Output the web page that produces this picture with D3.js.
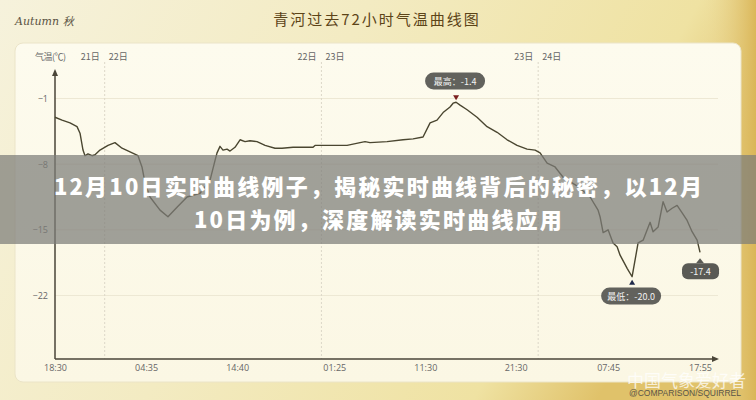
<!DOCTYPE html>
<html><head><meta charset="utf-8">
<script src="https://cdn.jsdelivr.net/npm/d3@7"></script>
<style>
html,body{margin:0;padding:0;background:#f4efd2;}
svg{display:block;}
</style></head>
<body>
<svg id="c" width="756" height="400"></svg>
<script>
// ---------- data ----------
const title = "青河过去72小时气温曲线图";
const brand = "Autumn 秋";
const yLabel = "气温(℃)";
// hours since 21日 18:30
const times = [0,0.78,1.66,2.44,2.77,3.1,3.32,3.65,4.1,4.43,4.98,5.87,6.64,7.42,8.31,9.19,9.63,9.97,10.52,11.63,12.51,13.51,14.62,16.06,17.17,17.72,17.94,18.27,18.6,19.05,19.38,19.93,20.49,21.04,21.59,22.37,23.26,24.36,25.14,26.36,28.57,28.79,32.34,33.78,34.33,34.88,36.77,38.54,39.65,40.75,41.53,42.3,42.97,43.74,44.08,44.41,44.85,45.63,46.73,47.84,48.95,50.06,51.16,52.27,53.16,53.71,54.49,55.37,56.26,57.92,59.25,60.13,60.35,60.69,61.24,61.79,62.24,62.57,63.35,63.9,64.56,65.12,65.89,66.22,66.78,67.33,67.77,68.33,68.88,69.44,69.99,70.54,71.1,71.42];
const temps = [-3.0,-3.3,-3.6,-4.0,-4.7,-6.5,-7.1,-6.9,-7.1,-7.0,-6.5,-6.0,-5.7,-6.3,-6.7,-7.1,-8.3,-10.0,-11.5,-12.9,-13.6,-12.6,-11.5,-11.1,-9.7,-7.6,-6.8,-6.1,-6.5,-6.4,-6.6,-6.2,-5.4,-5.6,-5.5,-5.6,-6.0,-6.3,-6.3,-6.2,-6.2,-6.0,-6.0,-5.7,-5.6,-5.7,-5.6,-5.4,-5.3,-5.1,-3.6,-3.3,-2.5,-1.9,-1.5,-1.4,-1.7,-2.2,-3.0,-4.0,-4.6,-5.4,-6.0,-6.4,-6.5,-6.8,-7.9,-8.3,-9.4,-10.4,-11.5,-12.9,-13.6,-15.3,-15.0,-16.4,-16.8,-17.7,-19.1,-20.0,-16.4,-16.1,-14.2,-15.2,-14.7,-12.0,-13.1,-12.7,-12.4,-13.2,-14.0,-15.2,-16.1,-17.4];
const xTickLabels = ["18:30","04:35","14:40","01:25","11:30","21:30","07:45","17:55"];
const xTickDays   = [21,22,22,23,23,23,24,24];
const yTicks = [-1,-8,-15,-22];
const dayBoundaryDays = [22,23,24];
const maxLabel = "最高：-1.4";
const minLabel = "最低：-20.0";
const lastLabel = "-17.4";
const bannerLines = ["12月10日实时曲线例子，揭秘实时曲线背后的秘密，以12月","10日为例，深度解读实时曲线应用"];
const watermark = "中国气象爱好者";
const credit = "@COMPARISON/SQUIRREL";

// ---------- helpers ----------
const toHours = (day, hm) => { const [h,m] = hm.split(":").map(Number); return (day-21)*24 + h + m/60 - 18.5; };
const data = times.map((t,i)=>({t, v: temps[i]}));

const svg = d3.select("#c");
const defs = svg.append("defs");
const bg = defs.append("linearGradient").attr("id","bg").attr("x1","0").attr("y1","0").attr("x2","1").attr("y2","0.3");
bg.append("stop").attr("offset","0").attr("stop-color","#f6f2dc");
bg.append("stop").attr("offset","0.45").attr("stop-color","#f3ebc2");
bg.append("stop").attr("offset","0.85").attr("stop-color","#efe2a2");
bg.append("stop").attr("offset","1").attr("stop-color","#e0c26a");
svg.append("rect").attr("width",756).attr("height",400).attr("fill","url(#bg)");

const wheat = defs.append("linearGradient").attr("id","wh").attr("x1","0").attr("y1","0").attr("x2","1").attr("y2","0");
wheat.append("stop").attr("offset","0").attr("stop-color","#f0e2a8").attr("stop-opacity",0);
wheat.append("stop").attr("offset","1").attr("stop-color","#d9b455").attr("stop-opacity",0.9);
svg.append("rect").attr("x",700).attr("y",0).attr("width",56).attr("height",400).attr("fill","url(#wh)");

// panel
const pg = defs.append("linearGradient").attr("id","pg").attr("x1","0").attr("y1","0").attr("x2","0").attr("y2","1");
pg.append("stop").attr("offset","0").attr("stop-color","#fdfbee");
pg.append("stop").attr("offset","1").attr("stop-color","#fbf7e4");
svg.append("rect").attr("x",15).attr("y",43).attr("width",726).attr("height",339).attr("rx",8)
  .attr("fill","url(#pg)").attr("stroke","#ebe4c8").attr("stroke-width",1);

// header
svg.append("text").attr("x",15).attr("y",25).text(brand)
  .attr("font-family","'DejaVu Serif', serif").attr("font-style","italic").attr("font-size",11).attr("fill","#5b5444");
svg.append("text").attr("x",377).attr("y",25).attr("text-anchor","middle").text(title)
  .attr("font-family","'Noto Sans CJK SC'").attr("font-size",15).attr("letter-spacing",2).attr("fill","#5c4418");

// scales
const x = d3.scaleLinear().domain([0, toHours(24,"17:55")]).range([55,700]);
const y = d3.scaleLinear().domain([-22,-1]).range([295.5,98.5]);
const x0 = 55, xEnd = 718, yTop = 70, yBot = 359;

// horizontal grid
svg.append("g").selectAll("line").data(yTicks).join("line")
  .attr("x1",x0).attr("x2",xEnd).attr("y1",d=>y(d)).attr("y2",d=>y(d))
  .attr("stroke","#ede8d4").attr("stroke-width",1);

// day boundaries
const bounds = dayBoundaryDays.map(d=>toHours(d,"00:00"));
svg.append("g").selectAll("line").data(bounds).join("line")
  .attr("x1",d=>x(d)).attr("x2",d=>x(d)).attr("y1",62).attr("y2",yBot)
  .attr("stroke","#dcd8c8").attr("stroke-dasharray","2,2").attr("stroke-width",1);
const dayLbl = svg.append("g").attr("font-family","'Noto Sans CJK SC'").attr("font-size",9).attr("fill","#666");
dayBoundaryDays.forEach(d=>{
  const bx = x(toHours(d,"00:00"));
  dayLbl.append("text").attr("x",bx-5).attr("y",60).attr("text-anchor","end").text((d-1)+"日");
  dayLbl.append("text").attr("x",bx+4).attr("y",60).attr("text-anchor","start").text(d+"日");
});
svg.append("text").attr("x",35).attr("y",60).text(yLabel)
  .attr("font-family","'Noto Sans CJK SC'").attr("font-size",9).attr("letter-spacing",-0.5).attr("fill","#666");

// axes
const yAxis = d3.axisLeft(y).tickValues(yTicks).tickSize(0).tickPadding(7);
const yg = svg.append("g").attr("transform",`translate(${x0},0)`).call(yAxis);
yg.select(".domain").remove();
yg.selectAll("text").attr("font-family","'Open Sans', sans-serif").attr("font-size",9).attr("fill","#666");

const xTickVals = xTickLabels.map((l,i)=>toHours(xTickDays[i], l));
const xAxis = d3.axisBottom(x).tickValues(xTickVals).tickSize(0).tickPadding(6)
  .tickFormat((d,i)=>xTickLabels[i]);
const xg = svg.append("g").attr("transform",`translate(0,${yBot})`).call(xAxis);
xg.select(".domain").remove();
xg.selectAll("text").attr("font-family","'Open Sans', sans-serif").attr("font-size",9).attr("fill","#666");

// axis lines with arrows
const axCol = "#4a4538";
svg.append("line").attr("x1",x0).attr("x2",x0).attr("y1",yBot).attr("y2",yTop+4).attr("stroke",axCol).attr("stroke-width",1.5);
svg.append("path").attr("d",`M${x0-3},${yTop+6}L${x0},${yTop-1}L${x0+3},${yTop+6}Z`).attr("fill",axCol);
svg.append("line").attr("x1",x0).attr("x2",xEnd-4).attr("y1",yBot).attr("y2",yBot).attr("stroke",axCol).attr("stroke-width",1.5);
svg.append("path").attr("d",`M${xEnd-6},${yBot-3}L${xEnd+1},${yBot}L${xEnd-6},${yBot+3}Z`).attr("fill",axCol);

// line
const line = d3.line().x(d=>x(d.t)).y(d=>y(d.v));
svg.append("path").datum(data).attr("d",line).attr("fill","none")
  .attr("stroke","#4a4630").attr("stroke-width",1.4).attr("stroke-linejoin","round");

// annotations
const maxD = data.reduce((a,b)=>b.v>a.v?b:a);
const minD = data.reduce((a,b)=>b.v<a.v?b:a);
const lastD = data[data.length-1];
function pill(cx, cy, w, h, label, fs){
  const g = svg.append("g");
  g.append("rect").attr("x",cx-w/2).attr("y",cy-h/2).attr("width",w).attr("height",h).attr("rx",h/2)
    .attr("fill","#5a5a55").attr("opacity",0.95);
  g.append("text").attr("x",cx).attr("y",cy+3.5).attr("text-anchor","middle").text(label)
    .attr("font-family","'Noto Sans CJK SC'").attr("font-size",fs).attr("fill","#f2f2f2");
  return g;
}
pill(x(maxD.t)-1, 81, 60, 17, maxLabel, 9);
svg.append("path").attr("d",`M${x(maxD.t)-3},${y(maxD.v)-7}L${x(maxD.t)+3},${y(maxD.v)-7}L${x(maxD.t)},${y(maxD.v)-2}Z`).attr("fill","#7a1f1f");
pill(x(minD.t)-1, 296, 60, 17, minLabel, 9);
svg.append("path").attr("d",`M${x(minD.t)-3},${y(minD.v)+8}L${x(minD.t)+3},${y(minD.v)+8}L${x(minD.t)},${y(minD.v)+3}Z`).attr("fill","#1f2a4a");
const lx = x(lastD.t), ly = y(lastD.v);
svg.append("path").attr("d",`M${lx-4},${ly+11}L${lx},${ly+6}L${lx+4},${ly+11}Z`).attr("fill","#5a5a55");
const lp = svg.append("g");
lp.append("rect").attr("x",lx-18).attr("y",ly+11).attr("width",37).attr("height",16).attr("rx",6).attr("fill","#5a5a55");
lp.append("text").attr("x",lx+0.5).attr("y",ly+22.5).attr("text-anchor","middle").text(lastLabel)
  .attr("font-family","'Noto Sans CJK SC'").attr("font-size",9).attr("fill","#f2f2f2");

// banner overlay
svg.append("rect").attr("x",0).attr("y",155).attr("width",756).attr("height",89).attr("fill","#7d7d78").attr("opacity",0.72);
const bt = svg.append("g").attr("font-family","'Noto Sans CJK SC'").attr("font-weight",900).attr("font-size",22)
  .attr("fill","#ffffff").attr("text-anchor","middle");
bt.append("text").attr("x",379).attr("y",195).attr("letter-spacing",2.2).text(bannerLines[0]);
bt.append("text").attr("x",379).attr("y",228).attr("letter-spacing",2.2).text(bannerLines[1]);

// watermark
svg.append("text").attr("x",746).attr("y",387).attr("text-anchor","end").text(watermark)
  .attr("font-family","'Noto Sans CJK SC'").attr("font-size",17).attr("fill","#ffffff").attr("opacity",0.75);
svg.append("text").attr("x",741).attr("y",396).attr("text-anchor","end").text(credit)
  .attr("font-family","'Liberation Sans', sans-serif").attr("font-size",8.5).attr("fill","#5a5548");
</script>
</body></html>
